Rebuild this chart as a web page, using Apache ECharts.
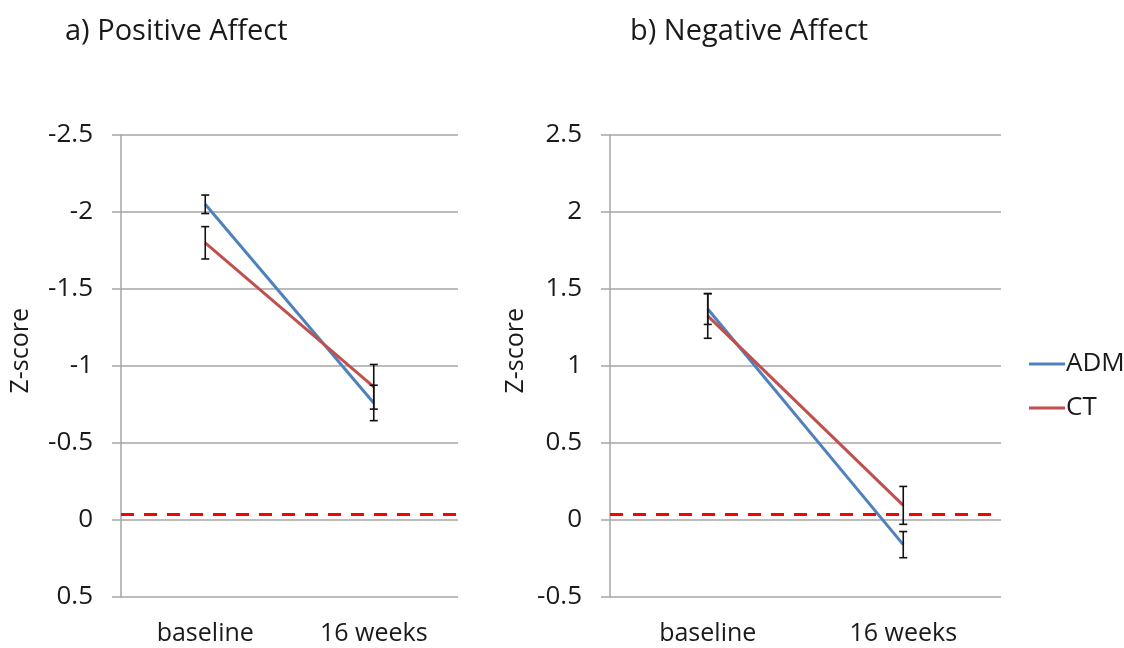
<!DOCTYPE html>
<html>
<head>
<meta charset="utf-8">
<script src="https://cdn.jsdelivr.net/npm/echarts@6/dist/echarts.min.js"></script>
<style>
  html, body { margin: 0; padding: 0; background: #fff; }
  #main { width: 1124px; height: 648px; }
</style>
</head>
<body>
<div id="main"></div>
<script>
// data
const categories = ['baseline', '16 weeks'];
const seriesNames = ['ADM', 'CT'];

// a) Positive Affect (axis reversed)
const posADM = [-2.05, -0.76];
const posADMErr = [0.06, 0.115];
const posCT = [-1.80, -0.865];
const posCTErr = [0.105, 0.145];
const posRef = -0.045;

// b) Negative Affect
const negADM = [1.37, -0.16];
const negADMErr = [0.10, 0.085];
const negCT = [1.325, 0.095];
const negCTErr = [0.145, 0.123];
const negRef = 0.045;

const FONT = 'Open Sans';
const TXT = '#1a1a1a';
const GRID_GRAY = '#a6a6a6';
const BLUE = '#4f81bd';
const RED = '#c0504d';

// [catIndex, low, high]
const errData = (vals, errs) => vals.map((v, i) => [i, v - errs[i], v + errs[i]]);

const renderErr = (params, api) => {
  const x = api.value(0);
  const lo = api.coord([x, api.value(1)]);
  const hi = api.coord([x, api.value(2)]);
  const w = 4;
  const style = { stroke: '#111', lineWidth: 1.6 };
  return {
    type: 'group',
    children: [
      { type: 'line', shape: { x1: lo[0], y1: lo[1], x2: hi[0], y2: hi[1] }, style },
      { type: 'line', shape: { x1: lo[0] - w, y1: lo[1], x2: lo[0] + w, y2: lo[1] }, style },
      { type: 'line', shape: { x1: hi[0] - w, y1: hi[1], x2: hi[0] + w, y2: hi[1] }, style }
    ]
  };
};

const refLine = (val) => ({
  silent: true,
  symbol: 'none',
  label: { show: false },
  lineStyle: { color: '#ff0000', width: 3, type: [13, 10] },
  data: [{ yAxis: val }]
});

const xAxisBase = (idx) => ({
  type: 'category',
  gridIndex: idx,
  data: categories,
  axisLine: { show: false },
  axisTick: { show: false },
  axisLabel: { color: TXT, fontSize: 25, fontFamily: FONT, margin: 24 }
});

const yAxisBase = (idx, min, max, inverse) => ({
  type: 'value',
  gridIndex: idx,
  min: min,
  max: max,
  interval: 0.5,
  inverse: inverse,
  axisLine: { show: true, lineStyle: { color: GRID_GRAY, width: 1.5 } },
  axisTick: { show: true, length: 9, lineStyle: { color: GRID_GRAY, width: 1.5 } },
  splitLine: { show: true, lineStyle: { color: GRID_GRAY, width: 1.5 } },
  axisLabel: { color: TXT, fontSize: 26, fontFamily: FONT, margin: 28 }
});

const chart = echarts.init(document.getElementById('main'));

const option = {
  backgroundColor: '#fff',
  animation: false,
  title: [
    { text: 'a) Positive Affect', left: 60, top: 12,
      textStyle: { color: TXT, fontSize: 29, fontWeight: 'normal', fontFamily: FONT } },
    { text: 'b) Negative Affect', left: 625, top: 12,
      textStyle: { color: TXT, fontSize: 29, fontWeight: 'normal', fontFamily: FONT } }
  ],
  legend: {
    orient: 'vertical',
    left: 1024,
    top: 346,
    data: seriesNames,
    icon: 'rect',
    itemWidth: 36,
    itemHeight: 3,
    itemGap: 18,
    textStyle: { color: TXT, fontSize: 26, fontFamily: FONT, padding: [0, 0, 0, -4] }
  },
  graphic: [
    { type: 'text', left: 8, top: 308, rotation: Math.PI / 2,
      style: { text: 'Z-score', fill: TXT, fontSize: 25, fontFamily: FONT } },
    { type: 'text', left: 503, top: 308, rotation: Math.PI / 2,
      style: { text: 'Z-score', fill: TXT, fontSize: 25, fontFamily: FONT } }
  ],
  grid: [
    { left: 121, right: 666, top: 135, bottom: 51 },
    { left: 610, right: 123, top: 135, bottom: 51 }
  ],
  xAxis: [xAxisBase(0), xAxisBase(1)],
  yAxis: [yAxisBase(0, -2.5, 0.5, true), yAxisBase(1, -0.5, 2.5, false)],
  series: [
    { name: 'ADM', type: 'line', xAxisIndex: 0, yAxisIndex: 0, data: posADM,
      symbol: 'none', lineStyle: { color: BLUE, width: 3 }, itemStyle: { color: BLUE },
      markLine: refLine(posRef) },
    { name: 'CT', type: 'line', xAxisIndex: 0, yAxisIndex: 0, data: posCT,
      symbol: 'none', lineStyle: { color: RED, width: 3 }, itemStyle: { color: RED } },
    { name: 'ADM', type: 'line', xAxisIndex: 1, yAxisIndex: 1, data: negADM,
      symbol: 'none', lineStyle: { color: BLUE, width: 3 }, itemStyle: { color: BLUE },
      markLine: refLine(negRef) },
    { name: 'CT', type: 'line', xAxisIndex: 1, yAxisIndex: 1, data: negCT,
      symbol: 'none', lineStyle: { color: RED, width: 3 }, itemStyle: { color: RED } },
    { type: 'custom', xAxisIndex: 0, yAxisIndex: 0, renderItem: renderErr, z: 5,
      data: errData(posADM, posADMErr) },
    { type: 'custom', xAxisIndex: 0, yAxisIndex: 0, renderItem: renderErr, z: 5,
      data: errData(posCT, posCTErr) },
    { type: 'custom', xAxisIndex: 1, yAxisIndex: 1, renderItem: renderErr, z: 5,
      data: errData(negADM, negADMErr) },
    { type: 'custom', xAxisIndex: 1, yAxisIndex: 1, renderItem: renderErr, z: 5,
      data: errData(negCT, negCTErr) }
  ]
};

chart.setOption(option);
</script>
</body>
</html>
